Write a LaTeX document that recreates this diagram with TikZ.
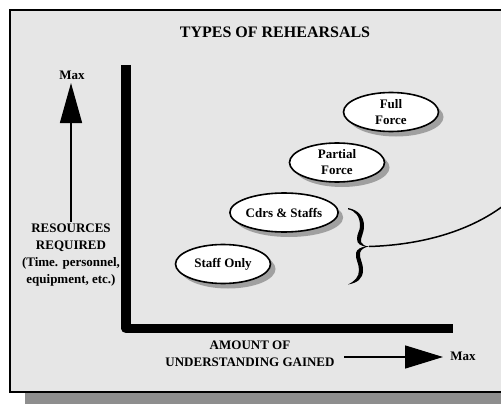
\documentclass[tikz,border=0pt]{standalone}
\usepackage{fontspec}
\setmainfont{Liberation Serif}
\usetikzlibrary{arrows.meta,shapes.geometric,shadows}
\definecolor{panel}{HTML}{E6E6E6}
\definecolor{panelshadow}{HTML}{8E8E8E}
\definecolor{ovshade}{HTML}{A0A0A0}
\tikzset{
  lbl/.style={font=\fontsize{13}{17}\selectfont\bfseries, align=center, inner sep=0pt},
  stage/.style={ellipse, draw, line width=1.6pt, fill=white, minimum width=95pt,
    minimum height=39pt, inner sep=0pt, align=center,
    font=\fontsize{13}{16}\selectfont\bfseries,
    drop shadow={shadow xshift=5pt, shadow yshift=-5pt, fill=ovshade, opacity=1}},
  axisbar/.style={line width=9.5pt, line join=round},
  pointer/.style={line width=1.5pt},
}
\begin{document}
\begin{tikzpicture}[x=1pt,y=-1pt]
\useasboundingbox (0,0) rectangle (501,404);
\begin{scope}
\clip (0,0) rectangle (501,404);
% panel with its shadow
\fill[panelshadow] (25,390) rectangle (520,404);
\draw[line width=2pt, fill=panel] (10,10) rectangle (520,391.5);

% title
\node[font=\fontsize{16}{18}\selectfont\bfseries] (title) at (275,32) {TYPES OF REHEARSALS};

% axes
\coordinate (ytop) at (126,65);
\coordinate (origin) at (126,328.5);
\coordinate (xend) at (453,328.5);
\draw[axisbar] (ytop) -- (origin) -- (xend);

% vertical axis label and arrow
\node[lbl] (maxy) at (72,75) {Max};
\node[lbl] (res) at (71,255) {RESOURCES\\REQUIRED\\(Time. personnel,\\equipment, etc.)};
\coordinate (ytip) at (71,83);
\draw[pointer, -{Triangle[length=40pt,width=22pt]}] (res.north) ++(0,-2) coordinate (ybase) -- (ytip);

% horizontal axis label and arrow
\node[lbl] (amount) at (250,353.5) {AMOUNT OF\\UNDERSTANDING GAINED};
\node[lbl] (maxx) at (463,356) {Max};
\coordinate (xstart) at (344,357);
\coordinate (xtip) at (443,357);
\draw[pointer, -{Triangle[length=38pt,width=23pt]}] (xstart) -- (xtip);

% rehearsal types
\node[stage] (staff) at (223,264) {Staff Only};
\node[stage] (cdrs) at (284,212.5) {Cdrs \& Staffs};
\node[stage] (partial) at (337,162.5) {Partial\\Force};
\node[stage] (full) at (391,112) {Full\\Force};

% brace grouping the two lower types
\coordinate (btip) at (369,246.5);
\fill (348,208) .. controls (358,210) and (364,216) .. (364,226)
  .. controls (364,234) and (360,238) .. (361,242)
  .. controls (362,245) and (365,246) .. (btip)
  .. controls (365,247) and (361,249) .. (360,253)
  .. controls (359,258) and (363,262) .. (363,270)
  .. controls (363,279) and (357,283) .. (348,284.5)
  .. controls (355,281) and (359,277) .. (359,270)
  .. controls (359,263) and (355,259) .. (356,253)
  .. controls (357,249) and (361,247) .. (366,246.5)
  .. controls (361,246) and (357,244) .. (357,239)
  .. controls (357,233) and (360,231) .. (360,226)
  .. controls (360,217) and (356,211) .. (348,209.3) -- cycle;
\coordinate (bend) at (503,206);
\draw[line width=1.5pt] (btip) .. controls (420,245) and (468,232) .. (bend);
\end{scope}
\end{tikzpicture}
\end{document}
